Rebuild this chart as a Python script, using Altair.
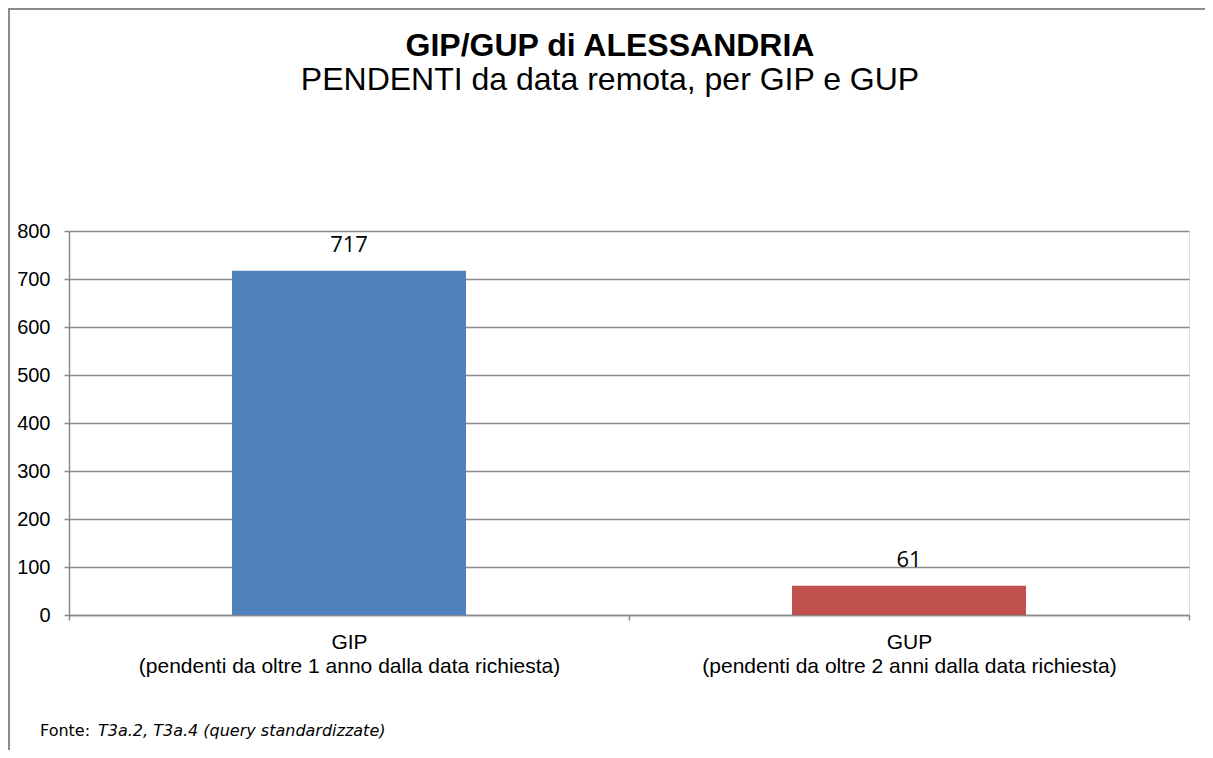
import altair as alt
import pandas as pd

# ---- data ----
categories = [
    "GIP|(pendenti da oltre 1 anno dalla data richiesta)",
    "GUP|(pendenti da oltre 2 anni dalla data richiesta)",
]
values = [717, 61]
bar_colors = ["#4F81BD", "#C0504D"]
y_ticks = [0, 100, 200, 300, 400, 500, 600, 700, 800]

title_text = "GIP/GUP di ALESSANDRIA"
subtitle_text = "PENDENTI da data remota, per GIP e GUP"
source_label = "Fonte: "
source_text = "T3a.2, T3a.4 (query standardizzate)"

df = pd.DataFrame({"cat": categories, "value": values})
one = pd.DataFrame({"k": [0]})

GRID = "#8a8a8a"

x_enc = alt.X(
    "cat:N",
    sort=categories,
    scale=alt.Scale(paddingInner=0, paddingOuter=0),
    axis=alt.Axis(
        title=None,
        labelExpr="split(datum.label, '|')",
        labelAngle=0,
        labelLimit=0,
        labelFont="Liberation Sans",
        labelFontSize=21,
        labelColor="#000000",
        labelLineHeight=24,
        labelPadding=11,
        labelBaseline="top",
        tickBand="extent",
        tickSize=5,
        tickColor=GRID,
        tickWidth=1.5,
        domainColor=GRID,
        domainWidth=1.5,
        grid=False,
    ),
)
y_enc = alt.Y(
    "value:Q",
    scale=alt.Scale(domain=[0, 800], nice=False, zero=True),
    axis=alt.Axis(
        title=None,
        values=y_ticks,
        labelFont="Liberation Sans",
        labelFontSize=20,
        labelColor="#000000",
        labelPadding=14,
        tickSize=5,
        tickColor=GRID,
        tickWidth=1.5,
        domainColor=GRID,
        domainWidth=1.5,
        grid=True,
        gridColor=GRID,
        gridWidth=1.5,
    ),
)

base = alt.Chart(df)

bars = base.mark_bar(size=234).encode(
    x=x_enc,
    y=y_enc,
    color=alt.Color(
        "cat:N",
        scale=alt.Scale(domain=categories, range=bar_colors),
        legend=None,
    ),
)

labels = base.mark_text(
    font="Open Sans",
    fontSize=22,
    color="#000000",
    baseline="alphabetic",
    dy=-19,
).encode(
    x=alt.X("cat:N", sort=categories),
    y=alt.Y("value:Q"),
    text=alt.Text("value:Q"),
)

src1 = alt.Chart(one).mark_text(
    font="DejaVu Sans", fontSize=16, align="left", baseline="alphabetic", color="#000000"
).encode(x=alt.value(-29), y=alt.value(505), text=alt.value(source_label))

src2 = alt.Chart(one).mark_text(
    font="DejaVu Sans", fontSize=16, fontStyle="italic", align="left",
    baseline="alphabetic", color="#000000"
).encode(x=alt.value(29), y=alt.value(505), text=alt.value(source_text))

frame_left = alt.Chart(one).mark_rule(color="#8c8c8c", strokeWidth=2).encode(
    x=alt.value(-60), y=alt.value(-223), y2=alt.value(519)
)
frame_top = alt.Chart(one).mark_rule(color="#8c8c8c", strokeWidth=2).encode(
    x=alt.value(-61), x2=alt.value(1136), y=alt.value(-222)
)

chart = (
    alt.layer(bars, labels, src1, src2, frame_left, frame_top)
    .properties(
        width=1120,
        height=384,
        padding={"left": 61, "top": 223, "right": 16, "bottom": 135},
        autosize=alt.AutoSizeParams(type="none"),
        title=alt.TitleParams(
            text=title_text,
            subtitle=subtitle_text,
            anchor="middle",
            dx=-19,
            offset=-90,
            font="Liberation Sans",
            fontSize=32,
            fontWeight="bold",
            color="#000000",
            subtitleFont="Liberation Sans",
            subtitleFontSize=32,
            subtitleColor="#000000",
            subtitlePadding=2,
        ),
    )
    .configure_view(stroke=None)
    .configure(background="#ffffff")
)

chart.save("out.html", embed_options={"renderer": "svg", "actions": False})
